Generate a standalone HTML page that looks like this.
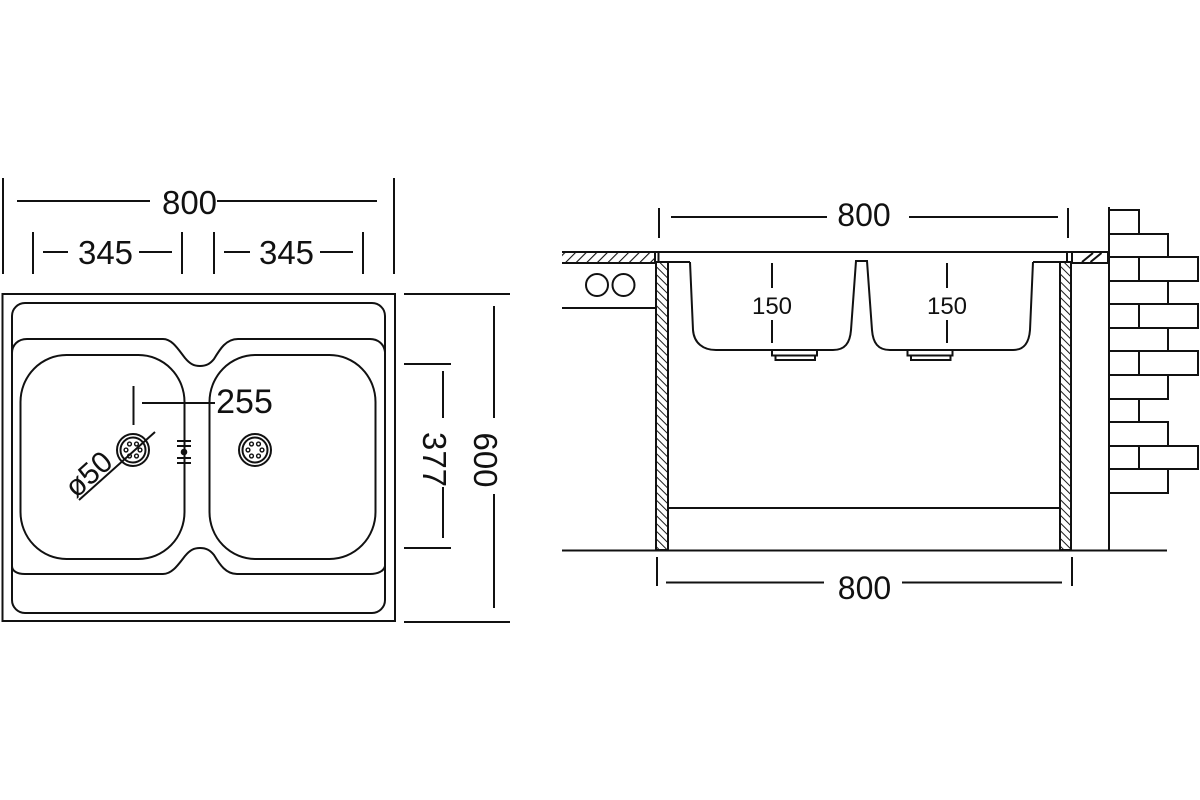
<!DOCTYPE html>
<html>
<head>
<meta charset="utf-8">
<style>
  html, body { margin: 0; padding: 0; background: #ffffff; }
  svg { display: block; }
  text { font-family: "Liberation Sans", Arial, sans-serif; fill: #111; }
</style>
</head>
<body>
<svg width="1200" height="800" viewBox="0 0 1200 800" xmlns="http://www.w3.org/2000/svg">
  <defs>
    <pattern id="hw" patternUnits="userSpaceOnUse" width="5.5" height="5.5" patternTransform="rotate(-45)">
      <line x1="0" y1="-1" x2="0" y2="7" stroke="#111" stroke-width="1.9"/>
    </pattern>
    <pattern id="hc" patternUnits="userSpaceOnUse" width="7.5" height="7.5" patternTransform="rotate(45)">
      <line x1="0" y1="-1" x2="0" y2="9" stroke="#111" stroke-width="2.2"/>
    </pattern>
  </defs>
  <rect x="0" y="0" width="1200" height="800" fill="#fff"/>

  <!-- ================= LEFT DRAWING (top view) ================= -->
  <g stroke="#111" stroke-width="2" fill="none">
    <line x1="3" y1="178" x2="3" y2="274"/>
    <line x1="394" y1="178" x2="394" y2="274"/>
    <line x1="17" y1="201" x2="150" y2="201"/>
    <line x1="217" y1="201" x2="377" y2="201"/>
    <line x1="33" y1="232" x2="33" y2="274"/>
    <line x1="182" y1="232" x2="182" y2="274"/>
    <line x1="214" y1="232" x2="214" y2="274"/>
    <line x1="363" y1="232" x2="363" y2="274"/>
    <line x1="43" y1="252" x2="68" y2="252"/>
    <line x1="139" y1="252" x2="172" y2="252"/>
    <line x1="224" y1="252" x2="250" y2="252"/>
    <line x1="320" y1="252" x2="353" y2="252"/>

    <rect x="2.5" y="294" width="392.5" height="327"/>
    <rect x="12" y="303" width="373" height="310" rx="13" ry="13"/>
    <path d="M12,353 C12,345 18,339 27,339 L163,339 C172,339 178,349 185,358 C190,364 194,366 200,366 C206,366 210,364 214,359 C220,349 226,339 238,339 L370,339 C378,339 384,344 385,352"/>
    <path d="M12,566 C12,571 17,574 25,574 L163,574 C172,574 178,565 185,556 C190,550 194,548 200,548 C206,548 210,550 214,555 C220,565 226,574 237,574 L370,574 C378,574 384,571 385,566"/>
    <rect x="20.5" y="355" width="164" height="204" rx="46" ry="47"/>
    <rect x="209.5" y="355" width="166" height="204" rx="46" ry="47"/>

    <circle cx="133" cy="450" r="16"/>
    <circle cx="133" cy="450" r="12.5"/>
    <circle cx="255" cy="450" r="16"/>
    <circle cx="255" cy="450" r="12.5"/>
  </g>
  <g stroke="#111" stroke-width="1.4" fill="none">
    <circle cx="129.5" cy="444" r="1.9"/>
    <circle cx="136.5" cy="444" r="1.9"/>
    <circle cx="126" cy="450" r="1.9"/>
    <circle cx="140" cy="450" r="1.9"/>
    <circle cx="129.5" cy="456" r="1.9"/>
    <circle cx="136.5" cy="456" r="1.9"/>
    <circle cx="251.5" cy="444" r="1.9"/>
    <circle cx="258.5" cy="444" r="1.9"/>
    <circle cx="248" cy="450" r="1.9"/>
    <circle cx="262" cy="450" r="1.9"/>
    <circle cx="251.5" cy="456" r="1.9"/>
    <circle cx="258.5" cy="456" r="1.9"/>
  </g>
  <g stroke="#111" stroke-width="2" fill="none">
    <line x1="177" y1="441" x2="191" y2="441"/>
    <line x1="177" y1="446" x2="191" y2="446"/>
    <line x1="177" y1="458" x2="191" y2="458"/>
    <line x1="177" y1="463" x2="191" y2="463"/>
    <line x1="133.5" y1="386" x2="133.5" y2="425"/>
    <line x1="142" y1="403" x2="215" y2="403"/>
    <line x1="155" y1="432" x2="79" y2="500"/>

    <line x1="404" y1="294" x2="510" y2="294"/>
    <line x1="404" y1="622" x2="510" y2="622"/>
    <line x1="404" y1="364" x2="451" y2="364"/>
    <line x1="404" y1="548" x2="451" y2="548"/>
    <line x1="443" y1="371" x2="443" y2="418"/>
    <line x1="443" y1="487" x2="443" y2="538"/>
    <line x1="494" y1="306" x2="494" y2="418"/>
    <line x1="494" y1="494" x2="494" y2="608"/>
  </g>
  <circle cx="184" cy="452" r="3.3" fill="#111"/>

  <text x="189.5" y="214" font-size="33" text-anchor="middle">800</text>
  <text x="105.5" y="264" font-size="33" text-anchor="middle">345</text>
  <text x="286.5" y="264" font-size="33" text-anchor="middle">345</text>
  <text x="244.5" y="413" font-size="34" text-anchor="middle">255</text>
  <text transform="translate(76,499) rotate(-41.8)" x="0" y="0" font-size="30">ø50</text>
  <text transform="translate(423,459.5) rotate(90)" x="0" y="0" font-size="33" text-anchor="middle">377</text>
  <text transform="translate(474,460) rotate(90)" x="0" y="0" font-size="33" text-anchor="middle">600</text>

  <!-- ================= RIGHT DRAWING (side view) ================= -->
  <rect x="562" y="252" width="93" height="11" fill="url(#hc)"/>
  <rect x="656" y="262" width="12" height="288" fill="url(#hw)"/>
  <rect x="1060" y="262" width="11" height="288" fill="url(#hw)"/>

  <g stroke="#111" stroke-width="2" fill="none">
    <line x1="659" y1="208" x2="659" y2="238"/>
    <line x1="1068" y1="208" x2="1068" y2="238"/>
    <line x1="671" y1="217" x2="827" y2="217"/>
    <line x1="909" y1="217" x2="1058" y2="217"/>

    <line x1="562" y1="252" x2="1108" y2="252"/>
    <line x1="562" y1="263" x2="655" y2="263"/>
    <line x1="655" y1="252" x2="655" y2="263"/>
    <line x1="562" y1="308" x2="656" y2="308"/>
    <circle cx="597" cy="285" r="11"/>
    <circle cx="623.5" cy="285" r="11"/>

    <line x1="658.5" y1="252" x2="658.5" y2="262"/>
    <line x1="1067" y1="252" x2="1067" y2="262"/>
    <line x1="656" y1="262" x2="690" y2="262"/>
    <line x1="1033" y1="262" x2="1071" y2="262"/>

    <path d="M690,262 L693,330 C694,343 703,350 716,350 L833,350 C845,350 850,343 851,330 L856,261 L867,261 L872,330 C873,343 878,350 890,350 L1013,350 C1024,350 1029,343 1030,330 L1033,262"/>
    <rect x="772" y="350" width="45" height="5.5"/>
    <rect x="775.5" y="355.5" width="39.5" height="4.5"/>
    <rect x="907.5" y="350" width="45" height="5.5"/>
    <rect x="911" y="355.5" width="39.5" height="4.5"/>

    <line x1="772" y1="263" x2="772" y2="288"/>
    <line x1="772" y1="320" x2="772" y2="343"/>
    <line x1="947" y1="263" x2="947" y2="288"/>
    <line x1="947" y1="320" x2="947" y2="343"/>

    <rect x="656" y="262" width="12" height="288"/>
    <rect x="1060" y="262" width="11" height="288"/>
    <line x1="668" y1="508" x2="1060" y2="508"/>
    <line x1="562" y1="550.5" x2="1167" y2="550.5"/>

    <rect x="1072" y="252" width="36" height="11"/>
    <line x1="1082" y1="262" x2="1093" y2="253"/>
    <line x1="1090.5" y1="262" x2="1101.5" y2="253"/>

    <line x1="1109" y1="207" x2="1109" y2="550"/>
    <rect x="1109" y="210" width="30" height="24"/>
    <rect x="1109" y="234" width="59" height="23"/>
    <rect x="1109" y="257" width="30" height="24"/>
    <rect x="1139" y="257" width="59" height="24"/>
    <rect x="1109" y="281" width="59" height="23"/>
    <rect x="1109" y="304" width="30" height="24"/>
    <rect x="1139" y="304" width="59" height="24"/>
    <rect x="1109" y="328" width="59" height="23"/>
    <rect x="1109" y="351" width="30" height="24"/>
    <rect x="1139" y="351" width="59" height="24"/>
    <rect x="1109" y="375" width="59" height="24"/>
    <rect x="1109" y="399" width="30" height="23"/>
    <rect x="1109" y="422" width="59" height="24"/>
    <rect x="1109" y="446" width="30" height="23"/>
    <rect x="1139" y="446" width="59" height="23"/>
    <rect x="1109" y="469" width="59" height="24"/>

    <line x1="657" y1="557" x2="657" y2="586"/>
    <line x1="1072" y1="557" x2="1072" y2="586"/>
    <line x1="666" y1="582.5" x2="824" y2="582.5"/>
    <line x1="902" y1="582.5" x2="1062" y2="582.5"/>
  </g>

  <text x="864" y="226" font-size="32" text-anchor="middle">800</text>
  <text x="864.5" y="599" font-size="32" text-anchor="middle">800</text>
  <text x="772" y="314" font-size="24" text-anchor="middle">150</text>
  <text x="947" y="314" font-size="24" text-anchor="middle">150</text>
</svg>
</body>
</html>
